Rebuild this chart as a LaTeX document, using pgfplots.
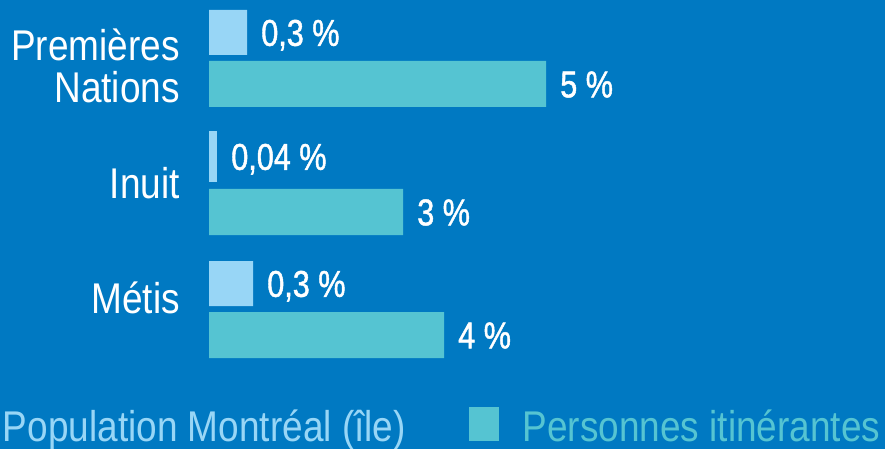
\documentclass[border=0pt]{standalone}
\usepackage{fontspec}
\setmainfont{Liberation Sans}[FakeStretch=0.86]
\newfontfamily\valfont{Liberation Sans}[FakeStretch=0.82,FakeBold=1.2]
\usepackage{xcolor}
\usepackage{pgfplots}
\pgfplotsset{compat=1.18}
\definecolor{bgblue}{HTML}{0079C2}
\definecolor{lightb}{HTML}{98D6F6}
\definecolor{tealb}{HTML}{55C4D2}

% 1 px of the reference = 0.75pt
\begin{document}
\begin{tikzpicture}
\fill[bgblue] (0,0) rectangle (663.75pt,336.75pt);
\begin{axis}[
at={(0,0)},anchor=south west,
scale only axis,width=663.75pt,height=336.75pt,
xmin=-209,xmax=676,ymin=0,ymax=449,y dir=reverse,
hide axis,clip=false,
xbar,bar shift=0pt,
point meta=explicit symbolic,
nodes near coords,
nodes near coords style={anchor=base west,inner sep=0pt,xshift=10.5pt,yshift=-10pt,
  text=white,font=\valfont\fontsize{28}{28}\selectfont},
legend columns=2,
legend style={draw=none,fill=none,at={(axis cs:-260,441)},anchor=south west,
  inner sep=0pt,outer sep=0pt,
  nodes={inner sep=0pt,text depth=0pt,text height=23pt},
  /tikz/every odd column/.append style={column sep=18pt},
  /tikz/every even column/.append style={column sep=47pt},
  font=\fontsize{32.25}{32.25}\selectfont},
legend image code/.code={\fill[#1] (0pt,-11.5pt) rectangle (22.5pt,14pt);},
]
% light bars: Population Montreal (ile)
\addplot[draw=none,fill=lightb,bar width=45] coordinates {
(38,32.5) [0,3 \%]
(44,283.5) [0,3 \%]};
\addlegendentry{\textcolor{lightb}{Population Montréal (île)}}
% teal bars: Personnes itinerantes
\addplot[draw=none,fill=tealb,bar width=46] coordinates {
(337,84) [5 \%]
(194,212) [3 \%]
(235,335) [4 \%]};
\addlegendentry{\textcolor{tealb}{Personnes itinérantes}}
% Inuit light bar is a little taller
\addplot[draw=none,fill=lightb,bar width=51,forget plot] coordinates {
(8,156.5) [0,04 \%]};

\begin{scope}[every node/.style={text=white,inner sep=0pt,
  font=\fontsize{32.25}{31.5}\selectfont}]
\node[anchor=base east,align=right] at (axis cs:-29,103) {Premières\\Nations};
\node[anchor=base east] at (axis cs:-29,199) {Inuit};
\node[anchor=base east] at (axis cs:-29,313) {Métis};
\end{scope}
\end{axis}
\pgfresetboundingbox
\path[use as bounding box] (0,0) rectangle (663.75pt,336.75pt);
\end{tikzpicture}
\end{document}
